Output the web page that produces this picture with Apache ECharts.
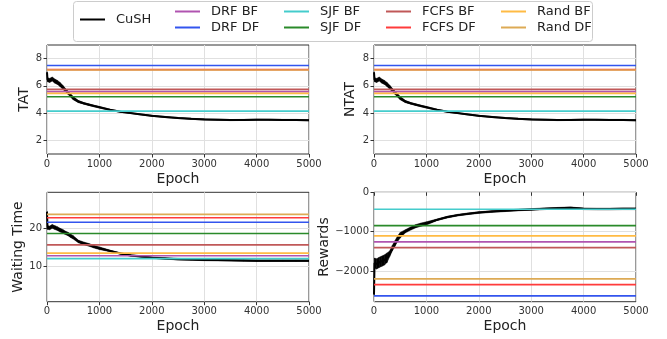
<!DOCTYPE html>
<html><head><meta charset="utf-8">
<script src="https://cdn.jsdelivr.net/npm/echarts@6/dist/echarts.min.js"></script>
<style>html,body{margin:0;padding:0;background:#fff}#c{width:667px;height:339px}</style>
</head><body><div id="c"></div>
<script>
// ---- data ----
const epochs = [0, 10, 50, 100, 150, 200, 250, 300, 350, 400, 450, 500, 600, 700, 800, 900, 1000, 1200, 1400, 1600, 1800, 2000, 2250, 2500, 2750, 3000, 3250, 3500, 3750, 4000, 4250, 4500, 4750, 5000];
const cushTAT = [7.0, 6.45, 6.4, 6.5, 6.35, 6.25, 6.1, 5.9, 5.7, 5.5, 5.3, 5.1, 4.85, 4.72, 4.62, 4.52, 4.43, 4.25, 4.1, 4.0, 3.9, 3.8, 3.72, 3.64, 3.58, 3.54, 3.52, 3.49, 3.5, 3.52, 3.51, 3.5, 3.5, 3.48];
const spreadTAT = [0.05, 0.15, 0.15, 0.15, 0.15, 0.15, 0.15, 0.15, 0.12, 0.12, 0.12, 0.12, 0.08, 0.06, 0.06, 0.06, 0.06, 0.04, 0.04, 0.04, 0.04, 0.04, 0.04, 0.04, 0.04, 0.04, 0.04, 0.04, 0.04, 0.04, 0.04, 0.04, 0.04, 0.04];
const cushNTAT = [7.0, 6.45, 6.4, 6.5, 6.35, 6.25, 6.1, 5.9, 5.7, 5.5, 5.3, 5.1, 4.85, 4.72, 4.62, 4.52, 4.43, 4.25, 4.1, 4.0, 3.9, 3.8, 3.72, 3.64, 3.58, 3.54, 3.52, 3.49, 3.5, 3.52, 3.51, 3.5, 3.5, 3.48];
const spreadNTAT = [0.05, 0.15, 0.15, 0.15, 0.15, 0.15, 0.15, 0.15, 0.12, 0.12, 0.12, 0.12, 0.08, 0.06, 0.06, 0.06, 0.06, 0.04, 0.04, 0.04, 0.04, 0.04, 0.04, 0.04, 0.04, 0.04, 0.04, 0.04, 0.04, 0.04, 0.04, 0.04, 0.04, 0.04];
const cushWait = [24.5, 20.3, 20.2, 20.6, 20.3, 20.0, 19.6, 19.3, 18.9, 18.6, 18.1, 17.7, 16.6, 16.1, 15.7, 15.2, 14.8, 14.1, 13.4, 12.9, 12.6, 12.3, 12.1, 11.9, 11.8, 11.7, 11.65, 11.6, 11.55, 11.5, 11.5, 11.5, 11.5, 11.5];
const spreadWait = [0.2, 0.5, 0.5, 0.5, 0.5, 0.5, 0.5, 0.5, 0.45, 0.45, 0.45, 0.45, 0.35, 0.35, 0.35, 0.35, 0.35, 0.2, 0.2, 0.2, 0.2, 0.2, 0.2, 0.2, 0.2, 0.2, 0.2, 0.2, 0.2, 0.2, 0.2, 0.2, 0.2, 0.2];
const cushRew = [-2600, -1800, -1820, -1780, -1750, -1720, -1660, -1560, -1420, -1300, -1180, -1090, -990, -920, -860, -820, -790, -700, -630, -580, -545, -515, -490, -470, -450, -435, -420, -405, -395, -420, -425, -425, -420, -420];
const spreadRew = [20, 130, 130, 130, 130, 130, 120, 70, 70, 70, 70, 70, 40, 40, 40, 40, 40, 20, 20, 20, 20, 20, 20, 20, 20, 20, 20, 20, 20, 20, 20, 20, 20, 20];

const baseNames = ['DRF BF', 'DRF DF', 'SJF BF', 'SJF DF', 'FCFS BF', 'FCFS DF', 'Rand BF', 'Rand DF'];
const baseColors = ['#b054b0', '#3355ee', '#44cccc', '#2a8a2a', '#c05858', '#ff3b3b', '#ffbb44', '#ddaa55'];
const baseTAT  = [5.58, 7.5, 4.15, 5.2, 5.74, 7.19, 5.45, 7.17];
const baseNTAT = [5.58, 7.5, 4.15, 5.2, 5.74, 7.19, 5.45, 7.17];
const baseWait = [12.8, 21.7, 12.05, 18.7, 15.7, 22.9, 13.5, 23.8];
const baseRew  = [-1260, -2633, -430, -846, -1405, -2345, -1108, -2200];

const xTicks = [0, 1000, 2000, 3000, 4000, 5000];
const tatTicks = [2, 4, 6, 8];
const waitTicks = [10, 20];
const rewTicks = [-2000, -1000, 0];

// ---- chart ----
const FONT = 'DejaVu Sans';
const chart = echarts.init(document.getElementById('c'), null, {renderer: 'canvas'});

const panels = [
  {name: 'TAT', cush: cushTAT, spread: spreadTAT, base: baseTAT, min: 1, max: 9, ticks: tatTicks, left: 47, top: 45, h: 109, gap: 16},
  {name: 'NTAT', cush: cushNTAT, spread: spreadNTAT, base: baseNTAT, min: 1, max: 9, ticks: tatTicks, left: 374, top: 45, h: 109, gap: 17},
  {name: 'Waiting Time', cush: cushWait, spread: spreadWait, base: baseWait, min: 0.6, max: 29.66, ticks: waitTicks, left: 47, top: 192.3, h: 109.4, gap: 22},
  {name: 'Rewards', cush: cushRew, spread: spreadRew, base: baseRew, min: -2780, max: 0, ticks: rewTicks, left: 374, top: 192.3, h: 109.4, gap: 36}
];

const grid = [], xAxis = [], yAxis = [], series = [];
const fmt = v => String(v).replace('-', '\u2212');
panels.forEach((p, i) => {
  grid.push({left: p.left, top: p.top, width: 262, height: p.h, show: true, borderColor: '#333', borderWidth: 1, backgroundColor: 'transparent'});
  xAxis.push({
    type: 'value', gridIndex: i, min: 0, max: 5000,
    name: 'Epoch', nameLocation: 'middle', nameGap: 18,
    nameTextStyle: {fontFamily: FONT, fontSize: 14, color: '#222'},
    axisLine: {show: false},
    axisTick: {show: true, length: 3.5, lineStyle: {color: '#333'}, customValues: xTicks},
    axisLabel: {fontFamily: FONT, fontSize: 10, color: '#333', margin: 5, customValues: xTicks, formatter: v => String(v)},
    splitLine: {show: true, lineStyle: {color: '#e0e0e0', width: 1}}
  });
  yAxis.push({
    type: 'value', gridIndex: i, min: p.min, max: p.max,
    name: p.name, nameLocation: 'middle', nameGap: p.gap,
    nameTextStyle: {fontFamily: FONT, fontSize: 14, color: '#222'},
    axisLine: {show: false},
    axisTick: {show: true, length: 3.5, lineStyle: {color: '#333'}, customValues: p.ticks},
    axisLabel: {fontFamily: FONT, fontSize: 10, color: '#333', margin: 5, customValues: p.ticks, formatter: fmt},
    splitLine: {show: true, lineStyle: {color: '#e0e0e0', width: 1}}
  });
  // noise band of the CuSH curve: quadrilaterals between consecutive samples
  const bandData = epochs.map((e, k) => [e, p.cush[k] - p.spread[k], p.cush[k] + p.spread[k]]);
  series.push({
    type: 'custom', name: '_band' + i, xAxisIndex: i, yAxisIndex: i, data: bandData, silent: true, z: 1,
    clip: true,
    renderItem: (params, api) => {
      const k = params.dataIndex;
      if (k >= bandData.length - 1) return null;
      const a = bandData[k], b = bandData[k + 1];
      const pts = [api.coord([a[0], a[2]]), api.coord([b[0], b[2]]), api.coord([b[0], b[1]]), api.coord([a[0], a[1]])];
      return {type: 'polygon', shape: {points: pts}, style: {fill: '#000', stroke: '#000', lineWidth: 0.5}};
    }
  });
  series.push({type: 'line', name: 'CuSH', xAxisIndex: i, yAxisIndex: i, data: epochs.map((e, k) => [e, p.cush[k]]), symbol: 'none', color: '#000', lineStyle: {color: '#000', width: 2}, z: 2});
  baseNames.forEach((n, j) => {
    series.push({type: 'line', name: n, xAxisIndex: i, yAxisIndex: i, data: [[0, p.base[j]], [5000, p.base[j]]], symbol: 'none', color: baseColors[j], lineStyle: {color: baseColors[j], width: 1.6}, z: 3});
  });
});

const legText = {fontFamily: FONT, fontSize: 13, color: '#222', padding: [0, 0, 0, 6]};
const legCommon = {icon: 'rect', itemWidth: 25, itemHeight: 2, orient: 'vertical', itemGap: 3, textStyle: legText, selectedMode: false, padding: 0};
const legend = [
  Object.assign({}, legCommon, {left: 80, top: 13, data: ['CuSH']}),
  Object.assign({}, legCommon, {left: 175, top: 5, data: ['DRF BF', 'DRF DF']}),
  Object.assign({}, legCommon, {left: 284, top: 5, data: ['SJF BF', 'SJF DF']}),
  Object.assign({}, legCommon, {left: 386, top: 5, data: ['FCFS BF', 'FCFS DF']}),
  Object.assign({}, legCommon, {left: 501, top: 5, data: ['Rand BF', 'Rand DF']})
];

chart.setOption({
  animation: false,
  backgroundColor: '#fff',
  grid, xAxis, yAxis, series, legend,
  graphic: [{type: 'rect', left: 73, top: 1, shape: {width: 519, height: 40, r: 3}, style: {fill: 'rgba(255,255,255,0.8)', stroke: '#cccccc', lineWidth: 1}, z: -1}]
});
</script>
</body></html>
